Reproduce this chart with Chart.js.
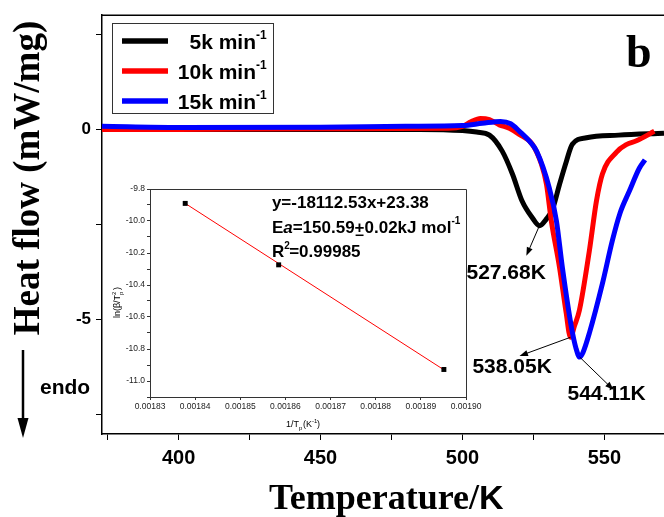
<!DOCTYPE html>
<html>
<head>
<meta charset="utf-8">
<script src="https://cdn.jsdelivr.net/npm/chart.js@4/dist/chart.umd.min.js"></script>
<style>
  html, body { margin: 0; padding: 0; background: #fff; }
  #wrap { position: relative; width: 664px; height: 517px; overflow: hidden; }
  #main { position: absolute; left: 0; top: 0; }
  #inset { position: absolute; left: 105px; top: 180px; }
</style>
</head>
<body>
<div id="wrap">
  <canvas id="main" width="664" height="517"></canvas>
  <canvas id="inset" width="390" height="252"></canvas>
</div>
<script>
// main DSC curves, temperature (K) vs heat flow (mW/mg)
const tempBlack = [373, 400, 450, 485, 500, 505, 509.5, 514, 517.6, 521, 524.6, 527.1, 529.6, 531.7, 534.2, 536.6, 538.7, 543.7, 555, 571];
const flowBlack = [0, 0, 0, 0, -0.03, -0.07, -0.15, -0.57, -1.17, -1.88, -2.32, -2.53, -2.35, -2.1, -1.44, -0.84, -0.39, -0.22, -0.15, -0.1];

const tempRed = [373, 400, 450, 495, 500, 503, 506.3, 509.5, 513, 516.5, 520, 524.6, 527.8, 529.6, 531.3, 534.2, 536.5, 538.05, 539.5, 541.2, 544.7, 547.2, 549.3, 554.2, 557.7, 561.3, 567.6];
const flowRed = [0, 0, 0.02, 0.03, 0.08, 0.2, 0.29, 0.26, 0.12, 0.03, -0.13, -0.39, -0.91, -1.44, -2.4, -3.63, -4.8, -5.46, -5.15, -4.75, -3.19, -1.88, -1.17, -0.6, -0.4, -0.3, -0.05];

const tempBlue = [373, 400, 450, 480, 500, 507, 513.4, 517, 520.1, 523.6, 526.1, 530.6, 533.1, 535.2, 538.4, 540, 541.3, 542.5, 544.7, 549.3, 552.8, 555.5, 558.8, 562.3, 564.3];
const flowBlue = [0.08, 0.05, 0.06, 0.08, 0.1, 0.16, 0.21, 0.15, -0.05, -0.31, -0.57, -1.54, -2.4, -3.63, -5.2, -5.75, -5.98, -5.85, -5.35, -4.05, -2.92, -2.2, -1.62, -1.02, -0.8];

const seriesNames = ['5k min', '10k min', '15k min'];

// peak labels
const peakTemps = [527.1, 538.05, 541.3];
const peakFlows = [-2.53, -5.46, -5.98];
const arrowEndT = [522.5, 520.1, 553.2];
const arrowEndY = [-3.32, -5.95, -6.84];
const labelT = [501.4, 503.5, 537.0];
const labelY = [-3.92, -6.40, -7.10];
const peakLabels = ['527.68K', '538.05K', '544.11K'];

// inset (Kissinger plot)
const invTp = [0.0018378, 0.0018585, 0.0018951];
const lnBeta = [-9.890, -10.274, -10.928];
const fitX = [0.0018378, 0.0018951];
const fitY = [-9.89, -10.93];

const SANS = "'Liberation Sans', Arial, sans-serif";
const SERIF = "'Liberation Serif', 'Times New Roman', serif";

function pts(xs, ys) {
  return xs.map((x, i) => ({ x: x, y: ys[i] }));
}

function arrow(ctx, x1, y1, x2, y2, head) {
  const a = Math.atan2(y2 - y1, x2 - x1);
  ctx.beginPath();
  ctx.moveTo(x1, y1);
  ctx.lineTo(x2 - Math.cos(a) * head * 0.8, y2 - Math.sin(a) * head * 0.8);
  ctx.stroke();
  ctx.beginPath();
  ctx.moveTo(x2, y2);
  ctx.lineTo(x2 - head * Math.cos(a - 0.35), y2 - head * Math.sin(a - 0.35));
  ctx.lineTo(x2 - head * Math.cos(a + 0.35), y2 - head * Math.sin(a + 0.35));
  ctx.closePath();
  ctx.fill();
}

const mainDecor = {
  id: 'mainDecor',
  afterDraw(chart) {
    const ctx = chart.ctx;
    const area = chart.chartArea;
    const xs = chart.scales.x, ys = chart.scales.y;
    ctx.save();
    ctx.fillStyle = '#000';
    ctx.strokeStyle = '#000';

    // top frame line
    ctx.lineWidth = 1.5;
    ctx.beginPath();
    ctx.moveTo(area.left, area.top);
    ctx.lineTo(area.right, area.top);
    ctx.stroke();

    // y title
    ctx.save();
    ctx.translate(39, 178);
    ctx.rotate(-Math.PI / 2);
    ctx.textAlign = 'center';
    ctx.font = 'bold 37px ' + SERIF;
    ctx.fillText('Heat flow (mW/mg)', 0, 0);
    ctx.restore();

    // endo
    ctx.font = 'bold 21px ' + SANS;
    ctx.textAlign = 'left';
    ctx.fillText('endo', 40, 394);
    ctx.lineWidth = 2.5;
    ctx.beginPath();
    ctx.moveTo(23, 350);
    ctx.lineTo(23, 422);
    ctx.stroke();
    ctx.beginPath();
    ctx.moveTo(23, 438);
    ctx.lineTo(17.5, 418);
    ctx.lineTo(28.5, 418);
    ctx.closePath();
    ctx.fill();

    // x title
    ctx.font = 'bold 36px ' + SERIF;
    const w1 = ctx.measureText('Temperature/').width;
    ctx.fillText('Temperature/', 269, 509);
    ctx.font = 'bold 34px ' + SANS;
    ctx.fillText('K', 269 + w1, 509);

    // panel letter
    ctx.font = 'bold 46px ' + SERIF;
    ctx.fillText('b', 626, 67);

    // legend
    ctx.lineWidth = 1;
    ctx.strokeStyle = '#333';
    ctx.strokeRect(112.5, 23.5, 161, 90);
    const colors = ['#000000', '#ff0000', '#0000ff'];
    const rows = [41, 71, 101];
    rows.forEach((yy, i) => {
      ctx.strokeStyle = colors[i];
      ctx.lineWidth = 5.5;
      ctx.beginPath();
      ctx.moveTo(122, yy);
      ctx.lineTo(168, yy);
      ctx.stroke();
      ctx.font = 'bold 21px ' + SANS;
      ctx.textAlign = 'right';
      ctx.fillStyle = '#000';
      ctx.fillText(seriesNames[i], 256, yy + 8);
      ctx.font = 'bold 12px ' + SANS;
      ctx.textAlign = 'left';
      ctx.fillText('-1', 256, yy - 2);
    });

    // peak annotations
    ctx.strokeStyle = '#000';
    ctx.fillStyle = '#000';
    ctx.lineWidth = 1;
    peakTemps.forEach((t, i) => {
      arrow(ctx, xs.getPixelForValue(t), ys.getPixelForValue(peakFlows[i]),
        xs.getPixelForValue(arrowEndT[i]), ys.getPixelForValue(arrowEndY[i]), 9);
      ctx.font = 'bold 21px ' + SANS;
      ctx.textAlign = 'left';
      ctx.fillText(peakLabels[i], xs.getPixelForValue(labelT[i]), ys.getPixelForValue(labelY[i]));
    });
    ctx.restore();
  }
};

new Chart(document.getElementById('main'), {
  type: 'line',
  data: {
    datasets: [
      { label: seriesNames[0], data: pts(tempBlack, flowBlack), borderColor: '#000000', order: 3 },
      { label: seriesNames[1], data: pts(tempRed, flowRed), borderColor: '#ff0000', order: 2 },
      { label: seriesNames[2], data: pts(tempBlue, flowBlue), borderColor: '#0000ff', order: 1 },
    ],
  },
  options: {
    responsive: false,
    animation: false,
    layout: { padding: { top: 14, left: 0, right: 0, bottom: 0 } },
    elements: {
      line: { borderWidth: 5, cubicInterpolationMode: 'monotone', capBezierPoints: true },
      point: { radius: 0 },
    },
    plugins: { legend: { display: false }, tooltip: { enabled: false } },
    scales: {
      x: {
        type: 'linear',
        min: 373,
        max: 571,
        afterFit: (s) => { s.height = 83; },
        border: { display: true, color: '#000', width: 1.5 },
        grid: { drawOnChartArea: false, drawTicks: true, tickLength: 6, color: '#000', lineWidth: 1 },
        ticks: {
          stepSize: 25,
          includeBounds: false,
          autoSkip: false,
          maxRotation: 0,
          padding: 6,
          color: '#000',
          font: { family: SANS, size: 20, weight: 'bold' },
          callback: (v) => (v % 50 === 0 ? String(v) : ''),
        },
      },
      y: {
        min: -8,
        max: 3,
        afterFit: (s) => { s.width = 102; },
        border: { display: true, color: '#000', width: 1.5 },
        grid: { drawOnChartArea: false, drawTicks: true, tickLength: 6, color: '#000', lineWidth: 1 },
        ticks: {
          stepSize: 2.5,
          includeBounds: false,
          autoSkip: false,
          padding: 5,
          color: '#000',
          font: { family: SANS, size: 17, weight: 'bold' },
          callback: (v) => (v === 0 || v === -5 ? String(v) : ''),
        },
      },
    },
  },
  plugins: [mainDecor],
});

const insetDecor = {
  id: 'insetDecor',
  afterDraw(chart) {
    const ctx = chart.ctx;
    const area = chart.chartArea;
    const xs = chart.scales.x, ys = chart.scales.y;
    ctx.save();
    ctx.strokeStyle = '#333';
    ctx.fillStyle = '#000';
    ctx.lineWidth = 1;
    ctx.beginPath();
    ctx.moveTo(area.left, area.top + 0.5);
    ctx.lineTo(area.right + 0.5, area.top + 0.5);
    ctx.lineTo(area.right + 0.5, area.bottom);
    ctx.stroke();

    // axis titles
    ctx.save();
    ctx.translate(15, (area.top + area.bottom) / 2 + 8);
    ctx.rotate(-Math.PI / 2);
    ctx.font = '9px ' + SANS;
    ctx.textAlign = 'left';
    const t = 'ln(\u03b2/T';
    const tw = ctx.measureText(t).width;
    const sw = 5;
    ctx.translate(-(tw + sw + 6) / 2, 0);
    ctx.fillText(t, 0, 0);
    ctx.font = '6px ' + SANS;
    ctx.fillText('p', tw, 3);
    ctx.fillText('2', tw, -4);
    ctx.font = '9px ' + SANS;
    ctx.fillText(')', tw + sw, 0);
    ctx.restore();

    const cx = (area.left + area.right) / 2;
    ctx.font = '9px ' + SANS;
    ctx.textAlign = 'left';
    const a1 = '1/T';
    const a1w = ctx.measureText(a1).width;
    const a2 = '(K';
    const a2w = ctx.measureText(a2).width;
    const start = cx - 22;
    const by = 247;
    ctx.fillText(a1, start, by);
    ctx.font = '6px ' + SANS;
    ctx.fillText('p', start + a1w, by + 3);
    ctx.font = '9px ' + SANS;
    ctx.fillText(a2, start + a1w + 4, by);
    ctx.font = '6px ' + SANS;
    ctx.fillText('-1', start + a1w + 4 + a2w, by - 4);
    ctx.font = '9px ' + SANS;
    ctx.fillText(')', start + a1w + 4 + a2w + 5, by);

    // fit text
    const lx = xs.getPixelForValue(0.001857);
    ctx.font = 'bold 17px ' + SANS;
    ctx.fillText('y=-18112.53x+23.38', lx, ys.getPixelForValue(-9.92));
    const y2 = ys.getPixelForValue(-10.072);
    let x = lx;
    ctx.fillText('E', x, y2); x += ctx.measureText('E').width;
    ctx.font = 'italic bold 17px ' + SANS;
    ctx.fillText('a', x, y2); x += ctx.measureText('a').width;
    ctx.font = 'bold 17px ' + SANS;
    ctx.fillText('=150.59', x, y2); x += ctx.measureText('=150.59').width;
    const pw = ctx.measureText('+').width;
    ctx.fillText('+', x, y2);
    ctx.fillRect(x + 1, y2 + 2, pw - 2, 1.5);
    x += pw;
    ctx.fillText('0.02kJ mol', x, y2); x += ctx.measureText('0.02kJ mol').width;
    ctx.font = 'bold 10px ' + SANS;
    ctx.fillText('-1', x, y2 - 9);
    const y3 = ys.getPixelForValue(-10.222);
    ctx.font = 'bold 17px ' + SANS;
    ctx.fillText('R', lx, y3);
    const rw = ctx.measureText('R').width;
    ctx.font = 'bold 10px ' + SANS;
    ctx.fillText('2', lx + rw, y3 - 8);
    ctx.font = 'bold 17px ' + SANS;
    ctx.fillText('=0.99985', lx + rw + 5, y3);
    ctx.restore();
  }
};

new Chart(document.getElementById('inset'), {
  type: 'scatter',
  data: {
    datasets: [
      { data: pts(invTp, lnBeta), pointStyle: 'rect', pointRadius: 3.5, backgroundColor: '#000', borderColor: '#000', borderWidth: 0, order: 1 },
      { data: pts(fitX, fitY), showLine: true, borderColor: '#ff0000', borderWidth: 1, pointRadius: 0, order: 2 },
    ],
  },
  options: {
    responsive: false,
    animation: false,
    layout: { padding: { top: 9, right: 29, left: 0, bottom: 0 } },
    plugins: { legend: { display: false }, tooltip: { enabled: false } },
    scales: {
      x: {
        type: 'linear',
        min: 0.00183,
        max: 0.0019,
        afterFit: (s) => { s.height = 35; },
        border: { display: true, color: '#333', width: 1 },
        grid: { drawOnChartArea: false, tickLength: 3, color: '#333' },
        ticks: {
          stepSize: 0.00001,
          autoSkip: false,
          maxRotation: 0,
          padding: 2,
          color: '#222',
          font: { family: SANS, size: 8.5 },
          callback: (v) => v.toFixed(5),
        },
      },
      y: {
        min: -11.1,
        max: -9.8,
        afterFit: (s) => { s.width = 45; },
        border: { display: true, color: '#333', width: 1 },
        grid: { drawOnChartArea: false, tickLength: 3, color: '#333' },
        ticks: {
          stepSize: 0.1,
          includeBounds: false,
          autoSkip: false,
          padding: 2,
          color: '#222',
          font: { family: SANS, size: 8.5 },
          callback: (v) => (Math.abs(Math.round(v * 10)) % 2 === 0 ? v.toFixed(1) : ''),
        },
      },
    },
  },
  plugins: [insetDecor],
});
</script>
</body>
</html>
